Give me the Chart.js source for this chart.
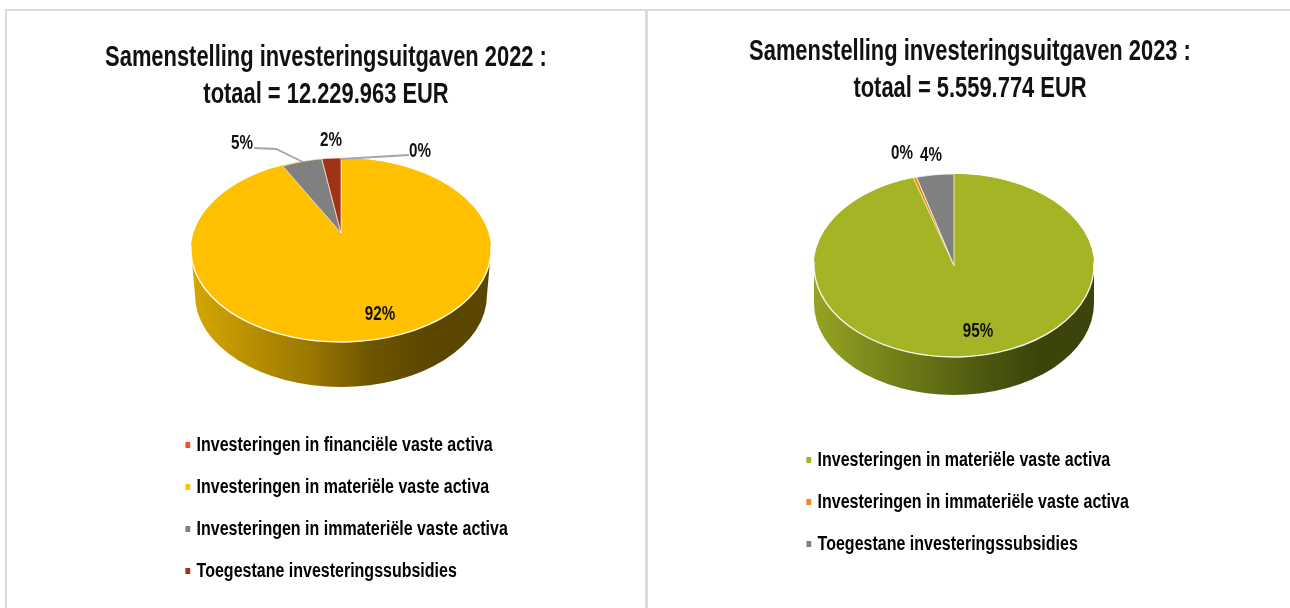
<!DOCTYPE html>
<html><head><meta charset="utf-8">
<script src="https://cdn.jsdelivr.net/npm/chart.js@4"></script>
<style>
html,body{margin:0;padding:0;background:#fff;width:1290px;height:608px;overflow:hidden}
.f{position:absolute;background:#DADADA}
.c{position:absolute;top:0;height:608px;filter:blur(0.45px)}
</style></head><body>
<div class="f" style="left:5px;top:9px;width:1285px;height:2px"></div>
<div class="f" style="left:5px;top:9px;width:2px;height:599px"></div>
<div class="f" style="left:645px;top:9px;width:3px;height:599px"></div>
<div class="c" style="left:0;width:652px"><canvas id="a" width="652" height="608"></canvas></div>
<div class="c" style="left:650px;width:640px"><canvas id="b" width="640" height="608"></canvas></div>
<script>
const FONT = '"Liberation Sans",sans-serif';
const titleA = ['Samenstelling investeringsuitgaven 2022 :', 'totaal = 12.229.963 EUR'];
const titleB = ['Samenstelling investeringsuitgaven 2023 :', 'totaal = 5.559.774 EUR'];
const categoriesA = ['Investeringen in financiële vaste activa','Investeringen in materiële vaste activa','Investeringen in immateriële vaste activa','Toegestane investeringssubsidies'];
const valuesA = [0.1, 92.4, 5.1, 2.4];
const colorsA = ['#E8562A','#FFC000','#808080','#9E3415'];
const categoriesB = ['Investeringen in materiële vaste activa','Investeringen in immateriële vaste activa','Toegestane investeringssubsidies'];
const valuesB = [95.3, 0.4, 4.3];
const colorsB = ['#A5B425','#F08A12','#808080'];

function squeeze(box,ctx,pivot,s){
  const orig=box.draw;
  box.draw=function(area){
    ctx.save(); ctx.translate(pivot(box),0); ctx.scale(s,1); ctx.translate(-pivot(box),0);
    orig.call(box,area); ctx.restore();
  };
}
const pie3d = {
  id:'pie3d',
  afterLayout(chart,args,o){
    const l=chart.legend, h=l.bottom-l.top;
    l.left=o.legendX; l.right=o.legendX+620; l.top=o.legendY; l.bottom=o.legendY+h;
    if(!chart.$sq){
      chart.$sq=true;
      squeeze(chart.titleBlock,chart.ctx,b=>(b.left+b.right)/2,o.titleScale);
      squeeze(l,chart.ctx,b=>b.left+o.legendPad,o.legendScale);
    }
  },
  beforeDatasetDraw(chart,args,o){
    const ctx=chart.ctx, arcs=chart.getDatasetMeta(0).data;
    const g=ctx.createLinearGradient(o.cx-o.rx,0,o.cx+o.rx,0);
    o.rim.forEach((c,i)=>g.addColorStop(i/(o.rim.length-1),c));
    ctx.save();
    ctx.fillStyle=g; ctx.beginPath();
    ctx.ellipse(o.cx,o.cy,o.rx,o.ry,0,0,Math.PI);
    ctx.ellipse(o.cx,o.cy+o.depth,o.lowRx,o.ry,0,Math.PI,0,true);
    ctx.closePath(); ctx.fill();
    const big=arcs.reduce((m,a)=>a.circumference>m.circumference?a:m,arcs[0]);
    ctx.fillStyle=big.options.backgroundColor; ctx.beginPath();
    ctx.ellipse(o.cx,o.cy,o.rx,o.ry,0,0,Math.PI*2); ctx.fill();
    ctx.restore();
    arcs.forEach(a=>{
      const small=a!==big, y=small?o.apexY:o.cy, ry=small?o.apexRy:o.ry, rx=small?o.apexRx:o.rx;
      ctx.save();
      ctx.translate(o.cx,y); ctx.scale(rx/a.outerRadius,ry/a.outerRadius); ctx.translate(-a.x,-a.y);
      a.draw(ctx,chart.chartArea);
      ctx.restore();
    });
    ctx.save();
    ctx.strokeStyle='rgba(255,255,255,.9)'; ctx.lineWidth=1.4; ctx.beginPath();
    ctx.ellipse(o.cx,o.cy,o.rx,o.ry,0,-0.04,Math.PI+0.04); ctx.stroke();
    ctx.strokeStyle='#A6A6A6'; ctx.lineWidth=1.8;
    o.leaders.forEach(p=>{ctx.beginPath();p.forEach((q,i)=>i?ctx.lineTo(q[0],q[1]):ctx.moveTo(q[0],q[1]));ctx.stroke();});
    ctx.fillStyle='#111'; ctx.font='bold 20px '+FONT; ctx.textAlign='center'; ctx.textBaseline='middle';
    const d=chart.data.datasets[0].data, t=d.reduce((s,v)=>s+v,0);
    d.forEach((v,i)=>{
      ctx.save(); ctx.translate(o.labels[i][0],o.labels[i][1]); ctx.scale(0.76,1);
      ctx.fillText(Math.round(v/t*100)+'%',0,0); ctx.restore();
    });
    ctx.restore();
    return false;
  }
};

function make(id,cats,vals,cols,title,o,titleTop){
  new Chart(document.getElementById(id),{
    type:'pie',
    data:{labels:cats,datasets:[{data:vals,backgroundColor:cols,borderColor:'#fff',
      borderWidth:vals.map(v=>v>50?0:1)}]},
    plugins:[pie3d],
    options:{
      responsive:false,animation:false,events:[],
      plugins:{
        pie3d:o,
        tooltip:{enabled:false},
        title:{display:true,text:title,color:'#111',font:{family:FONT,size:30,weight:'bold',lineHeight:37/30},padding:{top:titleTop,bottom:0}},
        legend:{position:'left',align:'start',fullSize:false,
          labels:{color:'#111',boxWidth:2,boxHeight:2,padding:o.legendPad,font:{family:FONT,size:20,weight:'bold'},
            generateLabels(ch){
              return ch.data.labels.map((t,i)=>({text:t,fillStyle:cols[i],strokeStyle:cols[i],lineWidth:4,hidden:false,index:i}));
            }}}
      }
    }
  });
}
make('a',categoriesA,valuesA,colorsA,titleA,{
  cx:341,cy:250,rx:150,ry:92,apexY:233,apexRx:128,apexRy:75,depth:45,lowRx:146,
  rim:['#D6A700','#B98F00','#9A7700','#6E5500','#5B4600','#5B4600'],
  labels:[[420,151],[380,314],[242,143],[331,140]],
  leaders:[[[254,148],[276,149],[303,162]],[[409,155],[341,159]]],
  legendX:165,legendY:413,legendPad:22,titleScale:0.73,legendScale:0.8
},39);
make('b',categoriesB,valuesB,colorsB,titleB,{
  cx:304,cy:265.5,rx:140,ry:91.5,apexY:265.5,apexRx:140,apexRy:91.5,depth:38,lowRx:140,
  rim:['#97A322','#7D8A1C','#667216','#4E5810','#3C440C','#3C440C'],
  labels:[[328,331],[252,153],[281,155]],
  leaders:[],
  legendX:136,legendY:428,legendPad:22,titleScale:0.73,legendScale:0.8
},33);
</script></body></html>
